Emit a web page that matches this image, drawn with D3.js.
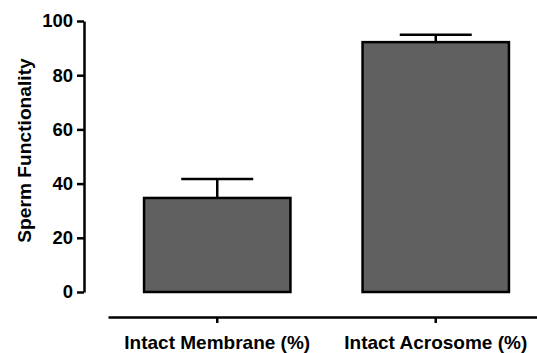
<!DOCTYPE html>
<html lang="en">
<head>
<meta charset="UTF-8">
<title>Sperm Functionality</title>
<script src="https://d3js.org/d3.v7.min.js"></script>
<style>
  body { margin: 0; background: #fff; }
  text { font-family: "Liberation Sans", Arial, sans-serif; font-weight: bold; }
</style>
</head>
<body>
<script>
  // data
  var categories = ["Intact Membrane (%)", "Intact Acrosome (%)"];
  var means = [34.7, 92.2];
  var errors = [7.0, 2.7];
  var yTicks = [0, 20, 40, 60, 80, 100];

  var width = 537, height = 353;

  var svg = d3.select("body").append("svg")
      .attr("width", width)
      .attr("height", height);

  var x = d3.scaleBand()
      .domain(categories)
      .range([108, 545])
      .paddingInner(0.33)
      .paddingOuter(0.165);

  var y = d3.scaleLinear()
      .domain([0, 100])
      .range([292, 21]);

  var data = categories.map(function (c, i) {
    return { name: c, mean: means[i], err: errors[i] };
  });

  // y axis
  var yAxis = d3.axisLeft(y)
      .tickValues(yTicks)
      .tickSize(7)
      .tickSizeOuter(0)
      .tickPadding(4);
  var gy = svg.append("g")
      .attr("transform", "translate(84,0)")
      .call(yAxis);
  gy.select(".domain").attr("stroke-width", 2.5);
  gy.selectAll(".tick line").attr("stroke-width", 2.5);
  gy.selectAll(".tick text").attr("font-size", "18.5px").attr("fill", "#000");

  svg.append("text")
      .attr("transform", "translate(31," + 150.5 + ") rotate(-90)")
      .attr("text-anchor", "middle")
      .attr("font-size", "19.2px")
      .text("Sperm Functionality");

  // x axis
  var xAxis = d3.axisBottom(x)
      .tickSize(6)
      .tickSizeOuter(0)
      .tickPadding(13);
  var gx = svg.append("g")
      .attr("transform", "translate(0,317)")
      .call(xAxis);
  gx.select(".domain").attr("stroke-width", 2.5);
  gx.selectAll(".tick line").attr("stroke-width", 2.5);
  gx.selectAll(".tick text").attr("font-size", "19px").attr("fill", "#000");

  // error bars
  var eb = svg.append("g").selectAll("g")
      .data(data)
      .enter().append("g");
  eb.append("line")
      .attr("x1", function (d) { return x(d.name) + x.bandwidth() / 2; })
      .attr("x2", function (d) { return x(d.name) + x.bandwidth() / 2; })
      .attr("y1", function (d) { return y(d.mean); })
      .attr("y2", function (d) { return y(d.mean + d.err); })
      .attr("stroke", "#000")
      .attr("stroke-width", 2.5);
  eb.append("line")
      .attr("x1", function (d) { return x(d.name) + x.bandwidth() / 2 - 36; })
      .attr("x2", function (d) { return x(d.name) + x.bandwidth() / 2 + 36; })
      .attr("y1", function (d) { return y(d.mean + d.err); })
      .attr("y2", function (d) { return y(d.mean + d.err); })
      .attr("stroke", "#000")
      .attr("stroke-width", 2.5);

  // bars
  svg.append("g").selectAll("rect")
      .data(data)
      .enter().append("rect")
      .attr("x", function (d) { return x(d.name); })
      .attr("y", function (d) { return y(d.mean); })
      .attr("width", x.bandwidth())
      .attr("height", function (d) { return y(0) - y(d.mean); })
      .attr("fill", "#606060")
      .attr("stroke", "#000")
      .attr("stroke-width", 2.5);
</script>
</body>
</html>
